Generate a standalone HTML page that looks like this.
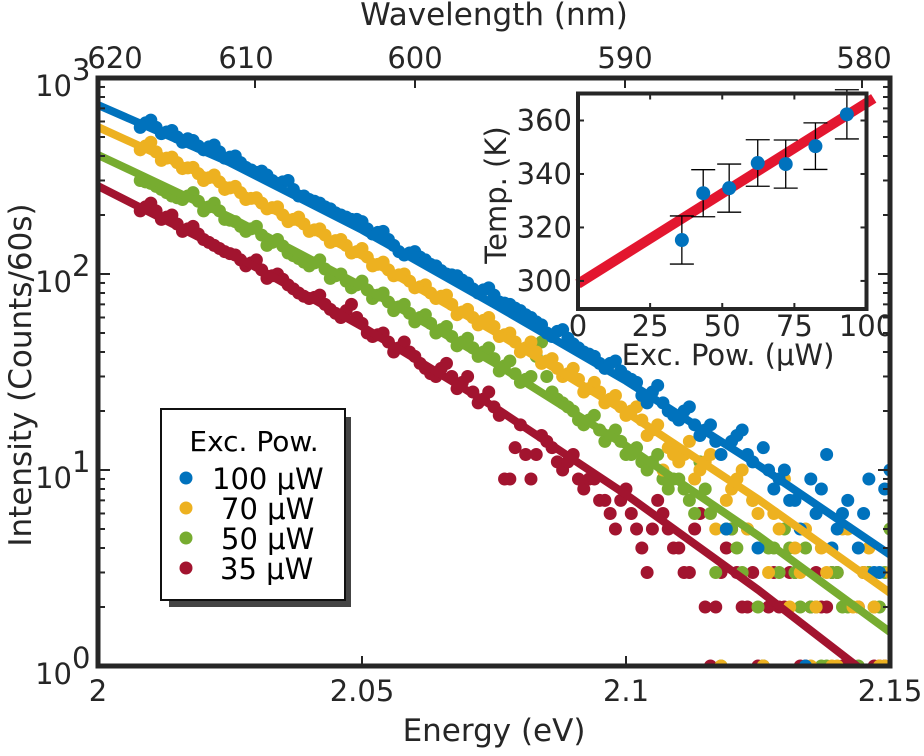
<!DOCTYPE html>
<html><head><meta charset="utf-8"><style>
html,body{margin:0;padding:0;background:#fff;}
svg text{font-family:"DejaVu Sans","Liberation Sans",sans-serif;fill:#262626;}
</style></head><body>
<svg id="chart" width="924" height="751" viewBox="0 0 924 751" xmlns="http://www.w3.org/2000/svg">
<defs>
<clipPath id="plotClip"><rect x="98" y="78" width="792" height="588"/></clipPath>
</defs>
<g id="main"></g>
<g id="legend"></g>
<g id="inset"></g>
</svg>
<script>
// ---- Main chart data ----
const energyStart = 2.008, energyStep = 0.001;
const seriesNames = ["100 μW","70 μW","50 μW","35 μW"];
const seriesColors = ["#0072BD","#EDB120","#77AC30","#A2142F"];
const data100 = [560,590,610,560,520,530,540,500,470,490,480,450,430,445,455,420,390,395,400,370,350,340,330,335,320,300,290,295,300,270,250,250,240,235,230,220,215,205,200,195,190,190,185,170,160,163,165,150,140,130,125,128,130,122,118,112,110,104,100,99,98,93,90,84,80,83,85,78,72,71,70,67,65,62,60,57,55,50,48,51,52,47,44,42,40,39,38,35,33,35,36,32,30,29,28,24,22,25,27,22,20,19,18,20,21,17,15,16,17,14,12,5,14,15,16,12,11,4,13,10,8,9,10,7,7,5,1,9,6,8,12,4,5,6,7,1,4,6,9,3,3,8,10];
const data70 = [430,450,470,420,380,390,395,370,345,348,350,325,300,310,320,295,270,275,280,260,240,243,245,230,215,218,220,200,185,190,195,180,165,168,170,158,145,148,150,140,128,130,135,122,110,112,115,105,98,99,100,92,85,86,88,80,75,77,78,70,62,64,66,60,55,58,60,54,48,49,50,45,40,42,45,40,35,36,37,33,30,31,33,29,25,26,28,25,22,23,24,21,19,20,21,18,15,16,17,10,13,12,11,12,14,9,10,11,12,5,1,7,8,9,10,5,7,6,1,3,6,5,9,2,4,3,5,1,2,4,3,1,1,5,5,2,2,3,4,2,1,1,3];
const data50 = [300,295,290,280,270,260,250,245,240,250,260,235,210,220,230,210,190,188,185,175,165,170,175,158,140,145,150,139,128,124,120,115,110,114,118,106,95,98,100,92,85,88,92,83,75,78,80,72,65,68,70,63,57,60,62,56,50,52,54,48,43,45,47,42,38,40,42,37,32,34,36,31,28,29,30,38,45,30,25,23,22,21,20,18,17,18,19,16,14,15,16,14,12,12,13,11,10,11,12,9,8,9,9,8,7,6,11,8,6,3,1,5,5,4,3,5,7,2,1,4,4,3,5,4,3,2,4,2,2,1,1,3,3,2,2,1,1,3,3,2,2,3,5];
const data35 = [210,220,230,210,190,195,200,180,165,170,175,160,150,145,140,135,130,127,125,118,110,114,118,105,95,98,100,94,88,84,80,77,75,76,78,70,66,63,60,65,70,60,56,50,48,49,50,45,40,42,45,40,38,35,33,31,30,33,35,30,26,28,30,25,22,23,25,21,19,9,9,13,17,12,9,12,15,14,13,11,10,11,12,9,8,9,9,7,7,6,5,7,8,6,5,4,3,5,7,6,5,4,4,3,3,5,6,2,1,2,3,4,5,3,2,2,3,1,1,2,3,2,2,3,3,1,1,2,3,2,2,3,3,1,1,1,2,3,3,1,1,1,1];
const fitEnergies = [2.0,2.025,2.05,2.075,2.1,2.125,2.15];
const fit100 = [728,370,168,70,28.5,10.6,3.7];
const fit70 = [562,277,124,51,19.8,7.1,2.36];
const fit50 = [405,195,86.5,35.3,13.3,4.63,1.49];
const fit35 = [281,128,54,21,7.5,2.45,0.74];
const xTicks = [2,2.05,2.1,2.15];
const xTickLabels = ["2","2.05","2.1","2.15"];
const yDecades = [0,1,2,3];
const wlTicks = [620,610,600,590,580];
// ---- Inset data ----
const insetPower = [36,43.4,52.4,62.3,72,82.3,93.2];
const insetTemp = [315.3,332.8,334.7,344.1,343.7,350.4,362.3];
const insetErr = [9,8.8,9,8.7,9,8.7,9.2];
const insetFitIntercept = 298.9, insetFitSlope = 0.677;
const insetXTicks = [0,25,50,75,100];
const insetYTicks = [300,320,340,360];

const NS="http://www.w3.org/2000/svg";
function el(tag, attrs, parent){const e=document.createElementNS(NS,tag);for(const k in attrs)e.setAttribute(k,attrs[k]);parent.appendChild(e);return e;}
const X0=98,X1=890,Y0=666,Y1=78;
const xs=e=>X0+(e-2)/(0.15)*(X1-X0);
const ys=v=>Y0-Math.log10(Math.max(v,1e-3))/3*(Y0-Y1);
const main=document.getElementById('main');
const pc=el('g',{'clip-path':'url(#plotClip)'},main);
const allData=[data100,data70,data50,data35];
const allFits=[fit100,fit70,fit50,fit35];
for(let s=3;s>=0;s--){
  const g=el('g',{},pc);
  
  
  allData[s].forEach((v,i)=>{
    const c=el('circle',{cx:xs(energyStart+i*energyStep),cy:ys(v),r:6.5,fill:seriesColors[s]},g);
    
    
  });
}
for(let s=3;s>=0;s--){
  const pts=allFits[s].map((v,i)=>xs(fitEnergies[i])+','+ys(v)).join(' ');
  const p=el('polyline',{points:pts,fill:'none',stroke:seriesColors[s],'stroke-width':8},pc);
  
  
}
const frame=el('rect',{x:X0,y:Y1,width:X1-X0,height:Y0-Y1,fill:'none',stroke:'#262626','stroke-width':5},main);


xTicks.forEach((t,i)=>{
  const x=xs(t);
  el('line',{x1:x,y1:Y0,x2:x,y2:Y0-10,stroke:'#262626','stroke-width':2},main);
  const tx=el('text',{x:x,y:Y0+35,'font-size':29,'text-anchor':'middle'},main);
  tx.textContent=xTickLabels[i];
  
  
});
yDecades.forEach(d=>{
  const y=ys(Math.pow(10,d));
  el('line',{x1:X0,y1:y,x2:X0+12,y2:y,stroke:'#262626','stroke-width':2},main);
  el('line',{x1:X1,y1:y,x2:X1-12,y2:y,stroke:'#262626','stroke-width':2},main);
  const tx=el('text',{x:72,y:y+18,'font-size':29,'text-anchor':'end'},main);
  tx.textContent='10';
  
  
  const sp=el('text',{x:72,y:y+2,'font-size':29,'text-anchor':'start'},main);
  sp.textContent=String(d);
  if(d<3){for(let m=2;m<10;m++){const ym=ys(m*Math.pow(10,d));
    el('line',{x1:X0,y1:ym,x2:X0+7,y2:ym,stroke:'#262626','stroke-width':2},main);
    el('line',{x1:X1,y1:ym,x2:X1-7,y2:ym,stroke:'#262626','stroke-width':2},main);}}
});
const wlPos=[98,255,415,625,862];
const wlLabelPos=[115,246,415,625,864];
wlTicks.forEach((w,i)=>{
  el('line',{x1:wlPos[i],y1:Y1,x2:wlPos[i],y2:Y1+10,stroke:'#262626','stroke-width':2},main);
  const tx=el('text',{x:wlLabelPos[i],y:68,'font-size':29,'text-anchor':'middle'},main);
  tx.textContent=String(w);
  
  
});
</script>
<script>
(function(){
const svg=document.getElementById('chart');
function t(txt,attrs,name){const e=document.createElementNS("http://www.w3.org/2000/svg",'text');for(const k in attrs)e.setAttribute(k,attrs[k]);e.textContent=txt;


svg.appendChild(e);return e;}
t('Wavelength (nm)',{x:494,y:25,'font-size':31,'text-anchor':'middle'},'top-axis-title');
t('Energy (eV)',{x:494,y:741,'font-size':31,'text-anchor':'middle'},'x-axis-title');
t('Intensity (Counts/60s)',{x:0,y:0,'font-size':31,'text-anchor':'middle',transform:'translate(31,375) rotate(-90)'},'y-axis-title');
})();
(function(){
const NS="http://www.w3.org/2000/svg";
const lg=document.getElementById('legend');
function el(tag,a,p){const e=document.createElementNS(NS,tag);for(const k in a)e.setAttribute(k,a[k]);p.appendChild(e);return e;}
el('rect',{x:169,y:417,width:182,height:190,fill:'#444'},lg);
el('rect',{x:161,y:409,width:184,height:191,fill:'#fff',stroke:'#111','stroke-width':2},lg);
const ti=el('text',{x:254,y:451,'font-size':28,'text-anchor':'middle'},lg);ti.textContent='Exc. Pow.';ti.style.fill='#000';
const colors=["#0072BD","#EDB120","#77AC30","#A2142F"];
const names=["100 μW","70 μW","50 μW","35 μW"];
const xs=[212,221,221,220];
names.forEach((n,i)=>{
  const y=478+i*30;
  const g=el('g',{},lg);
  
  
  el('circle',{cx:186,cy:y,r:6.5,fill:colors[i]},g);
  const tx=el('text',{x:xs[i],y:y+11,'font-size':29},g);tx.textContent=n;tx.style.fill='#000';
});
})();
(function(){
const NS="http://www.w3.org/2000/svg";
const g=document.getElementById('inset');
function el(tag,a,p){const e=document.createElementNS(NS,tag);for(const k in a)e.setAttribute(k,a[k]);p.appendChild(e);return e;}
const L=578,R=866.5,T=93.5,B=309;
const xi=v=>L+v/100*(R-L);
const yi=v=>B-(v-289.5)/(370.1-289.5)*(B-T);
el('rect',{x:L,y:T,width:R-L,height:B-T,fill:'#fff'},g);
const fl=el('line',{x1:xi(0),y1:yi(insetFitIntercept),x2:xi(102.5),y2:yi(insetFitIntercept+insetFitSlope*102.5),stroke:'#E3162F','stroke-width':10},g);


insetPower.forEach((p,i)=>{
  const x=xi(p),y=yi(insetTemp[i]),e1=yi(insetTemp[i]+insetErr[i]),e2=yi(insetTemp[i]-insetErr[i]);
  const eb=el('g',{stroke:'#000','stroke-width':1.3},g);
  
  
  el('line',{x1:x,y1:e1,x2:x,y2:e2},eb);
  el('line',{x1:x-12,y1:e1,x2:x+12,y2:e1},eb);
  el('line',{x1:x-12,y1:e2,x2:x+12,y2:e2},eb);
  const c=el('circle',{cx:x,cy:y,r:7,fill:'#0072BD'},g);
  
  
});
el('rect',{x:L,y:T,width:R-L,height:B-T,fill:'none',stroke:'#262626','stroke-width':4},g);
insetXTicks.forEach(v=>{
  el('line',{x1:xi(v),y1:B,x2:xi(v),y2:B-6,stroke:'#262626','stroke-width':2},g);
  el('line',{x1:xi(v),y1:T,x2:xi(v),y2:T+6,stroke:'#262626','stroke-width':2},g);
  const t=el('text',{x:xi(v),y:336,'font-size':29,'text-anchor':'middle'},g);t.textContent=String(v);
  
  
});
insetYTicks.forEach(v=>{
  el('line',{x1:L,y1:yi(v),x2:L+6,y2:yi(v),stroke:'#262626','stroke-width':2},g);
  el('line',{x1:R,y1:yi(v),x2:R-6,y2:yi(v),stroke:'#262626','stroke-width':2},g);
  const t=el('text',{x:572,y:yi(v)+10,'font-size':29,'text-anchor':'end'},g);t.textContent=String(v);
  
  
});
const xt=el('text',{x:728,y:365,'font-size':29,'text-anchor':'middle'},g);xt.textContent='Exc. Pow. (μW)';


const yt=el('text',{x:0,y:0,'font-size':29,'text-anchor':'middle',transform:'translate(506,195) rotate(-90)'},g);yt.textContent='Temp. (K)';


})();
</script>
</body></html>
